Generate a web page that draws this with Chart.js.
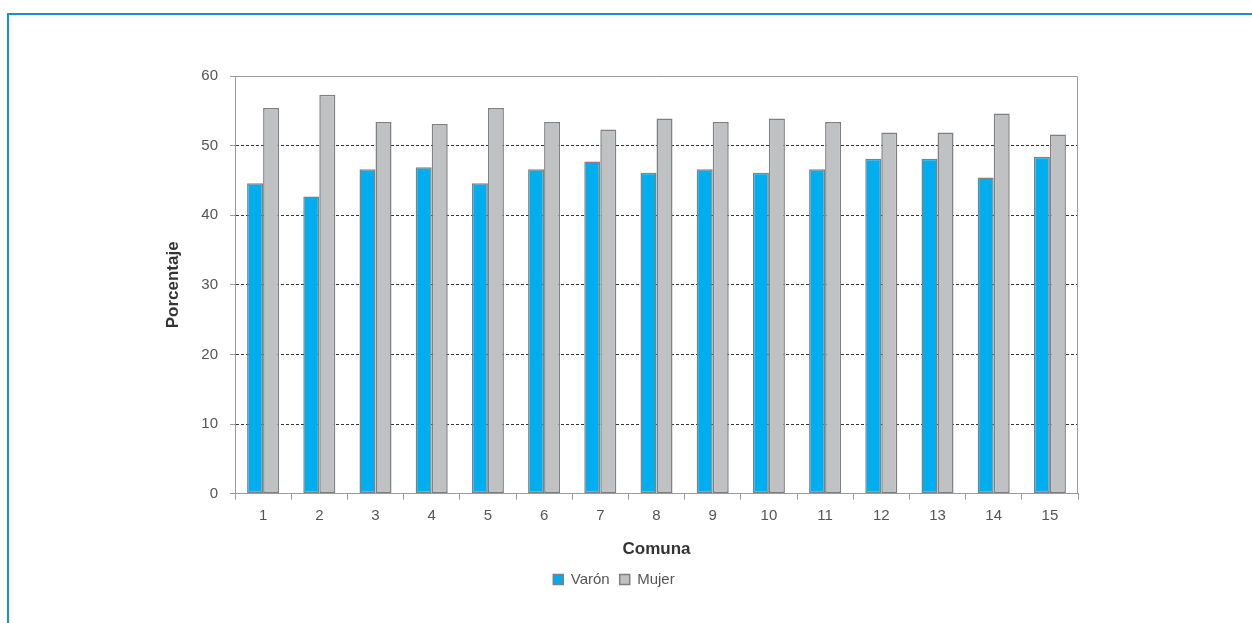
<!DOCTYPE html>
<html>
<head>
<meta charset="utf-8">
<script src="https://cdn.jsdelivr.net/npm/chart.js@4"></script>
<style>
  html, body { margin: 0; padding: 0; background: #fff; }
  body { width: 1252px; height: 623px; position: relative; overflow: hidden; }
  #frame { position: absolute; left: 7px; top: 13px; width: 1260px; height: 640px; border: 2px solid #1a8fd0; }
  #wrap { position: absolute; left: 0; top: 0; width: 1252px; height: 623px; }
</style>
</head>
<body>
<div id="frame"></div>
<div id="wrap"><canvas id="barChart"></canvas></div>
<script>
var comunas = ['1','2','3','4','5','6','7','8','9','10','11','12','13','14','15'];
var varon = [44.6, 42.7, 46.6, 46.9, 44.6, 46.6, 47.7, 46.1, 46.6, 46.1, 46.6, 48.1, 48.1, 45.4, 48.4];
var mujer = [55.4, 57.3, 53.4, 53.1, 55.4, 53.4, 52.3, 53.9, 53.4, 53.9, 53.4, 51.9, 51.9, 54.6, 51.6];
var yTicks = [0, 10, 20, 30, 40, 50, 60];

// gray box on top and right of plot area
var plotBox = {
  id: 'plotBox',
  afterDraw: (chart) => {
    let a = chart.chartArea;
    let c = chart.ctx;
    c.save();
    c.strokeStyle = '#9a9a9a';
    c.lineWidth = 1;
    c.beginPath();
    c.moveTo(a.left, a.top + 0.5);
    c.lineTo(a.right - 0.5, a.top + 0.5);
    c.lineTo(a.right - 0.5, a.bottom);
    c.stroke();
    c.restore();
  }
};

var ctx = document.getElementById('barChart').getContext('2d');
var myBarChart = new Chart(ctx, {
  type: 'bar',
  data: {
    labels: comunas,
    datasets: [{
      label: 'Varón',
      data: varon,
      backgroundColor: '#00aeef',
      borderColor: '#808080',
      borderWidth: 1.5,
      borderSkipped: false
    },
    {
      label: 'Mujer',
      data: mujer,
      backgroundColor: '#c0c1c3',
      borderColor: '#808080',
      borderWidth: 1.5,
      borderSkipped: false
    }]
  },
  options: {
    responsive: true,
    maintainAspectRatio: false,
    animation: false,
    layout: { padding: { left: 150, right: 174, top: 76, bottom: 26 } },
    datasets: { bar: { categoryPercentage: 0.57, barPercentage: 1 } },
    scales: {
      x: {
        grid: { offset: true, drawOnChartArea: false, tickLength: 6, tickColor: '#9a9a9a' },
        border: { color: '#9a9a9a' },
        ticks: { color: '#555', font: { family: 'Liberation Sans', size: 15 }, padding: 7 },
        title: { display: true, text: 'Comuna', color: '#333', font: { family: 'Liberation Sans', size: 17, weight: 'bold' }, padding: { top: 8, bottom: 2 } }
      },
      y: {
        min: 0,
        max: 60,
        afterBuildTicks: (axis) => { axis.ticks = yTicks.map(v => ({ value: v })); },
        afterFit: (axis) => { axis.width = 85; },
        grid: {
          color: (c) => (c.tick && c.tick.value > 0 && c.tick.value < 60) ? '#333' : 'rgba(0,0,0,0)',
          tickColor: '#9a9a9a',
          tickLength: 5
        },
        border: { color: '#9a9a9a', dash: [3, 2] },
        ticks: { color: '#555', font: { family: 'Liberation Sans', size: 15 }, padding: 12 },
        title: { display: true, text: 'Porcentaje', color: '#333', font: { family: 'Liberation Sans', size: 17, weight: 'bold' }, padding: { top: 13, bottom: 0 } }
      }
    },
    plugins: {
      legend: {
        position: 'bottom',
        labels: { boxWidth: 10, boxHeight: 10, color: '#555', font: { family: 'Liberation Sans', size: 15 }, padding: 10 }
      },
      tooltip: { enabled: false }
    }
  },
  plugins: [plotBox]
});
</script>
</body>
</html>
